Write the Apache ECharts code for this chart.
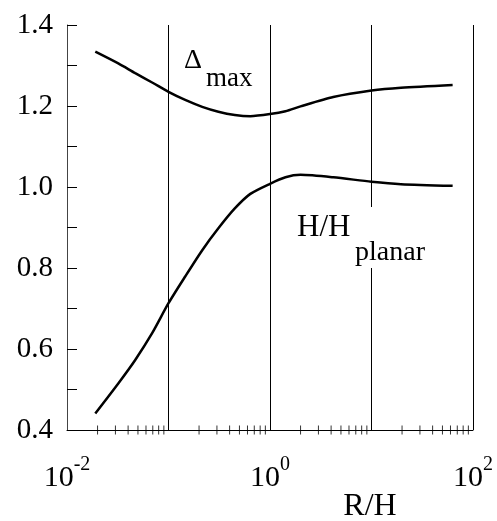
<!DOCTYPE html>
<html>
<head>
<meta charset="utf-8">
<script src="https://cdn.jsdelivr.net/npm/echarts@6/dist/echarts.min.js"></script>
<style>
  html, body { margin: 0; padding: 0; background: #fff; }
  #chart { width: 497px; height: 521px; }
</style>
</head>
<body>
<div id="chart"></div>
<script>
const rOverH = [0.019, 0.032, 0.047, 0.069, 0.1, 0.146, 0.215, 0.31, 0.45, 0.64, 1.0, 1.42, 2.0, 4.2, 10, 19.5, 63];
const deltaMax = [1.334, 1.305, 1.281, 1.258, 1.235, 1.215, 1.198, 1.186, 1.178, 1.175, 1.180, 1.187, 1.199, 1.222, 1.238, 1.245, 1.252];
const hPlanar = [0.441, 0.515, 0.573, 0.639, 0.713, 0.779, 0.844, 0.898, 0.947, 0.983, 1.008, 1.024, 1.030, 1.024, 1.013, 1.007, 1.003];
// minor log ticks on the x axis
const minorTicks = [0.02, 0.03, 0.04, 0.05, 0.06, 0.07, 0.08, 0.09,
  0.2, 0.3, 0.4, 0.5, 0.6, 0.7, 0.8, 0.9,
  2, 3, 4, 5, 6, 7, 8, 9,
  20, 30, 40, 50, 60, 70, 80, 90];

const serif = 'Liberation Serif';
const chart = echarts.init(document.getElementById('chart'));

chart.setOption({
  animation: false,
  backgroundColor: '#fff',
  grid: { left: 67, right: 24, top: 25, bottom: 91, outerBoundsMode: 'none' },
  xAxis: {
    type: 'log',
    logBase: 10,
    min: 0.01,
    max: 100,
    axisLine: { onZero: false, lineStyle: { color: '#000', width: 1 } },
    axisTick: { show: false },
    splitLine: { show: true, lineStyle: { color: '#000', width: 1 } },
    axisLabel: {
      margin: 25,
      formatter: function (v) {
        const e = Math.round(Math.log10(v));
        if (e % 2 !== 0) return '';
        return '{b|10}{s|' + e + '}';
      },
      rich: {
        b: { fontSize: 30, fontFamily: serif, color: '#000', lineHeight: 46 },
        s: { fontSize: 20, fontFamily: serif, color: '#000', lineHeight: 20, verticalAlign: 'top' }
      }
    }
  },
  yAxis: {
    type: 'value',
    min: 0.4,
    max: 1.4,
    interval: 0.1,
    axisLine: { show: true, onZero: false, lineStyle: { color: '#444', width: 1 } },
    axisTick: { show: true, inside: true, length: 10, lineStyle: { color: '#000' } },
    splitLine: { show: false },
    axisLabel: {
      margin: 14,
      fontSize: 29,
      fontFamily: serif,
      color: '#000',
      formatter: function (v) {
        return Math.round(v * 10) % 2 === 0 ? v.toFixed(1) : '';
      }
    }
  },
  series: [
    {
      name: 'Δmax',
      type: 'line',
      data: rOverH.map((x, i) => [x, deltaMax[i]]),
      showSymbol: false,
      smooth: 0.25,
      lineStyle: { color: '#000', width: 2.5 }
    },
    {
      name: 'H/Hplanar',
      type: 'line',
      data: rOverH.map((x, i) => [x, hPlanar[i]]),
      showSymbol: false,
      smooth: 0.25,
      lineStyle: { color: '#000', width: 2.5 }
    },
    {
      name: 'minor',
      type: 'scatter',
      data: minorTicks.map(x => [x, 0.4]),
      symbol: 'rect',
      symbolSize: [1, 9],
      itemStyle: { color: '#000' },
      clip: false,
      silent: true,
      z: 3
    }
  ],
  graphic: [
    { type: 'rect', z: 100, shape: { x: 360, y: 207, width: 20, height: 61 }, style: { fill: '#fff' } },
    { type: 'text', z: 101, style: { text: 'Δ', x: 184, y: 61, font: '28px "Liberation Serif"', fill: '#000', verticalAlign: 'middle' } },
    { type: 'text', z: 101, style: { text: 'max', x: 206, y: 79, font: '27px "Liberation Serif"', fill: '#000', verticalAlign: 'middle' } },
    { type: 'text', z: 101, style: { text: 'H/H', x: 297, y: 228, font: '31px "Liberation Serif"', fill: '#000', verticalAlign: 'middle' } },
    { type: 'text', z: 101, style: { text: 'planar', x: 355, y: 253, font: '28px "Liberation Serif"', fill: '#000', verticalAlign: 'middle' } },
    { type: 'text', z: 101, style: { text: 'R/H', x: 370, y: 507, font: '32px "Liberation Serif"', fill: '#000', align: 'center', verticalAlign: 'middle' } }
  ]
});
</script>
</body>
</html>
